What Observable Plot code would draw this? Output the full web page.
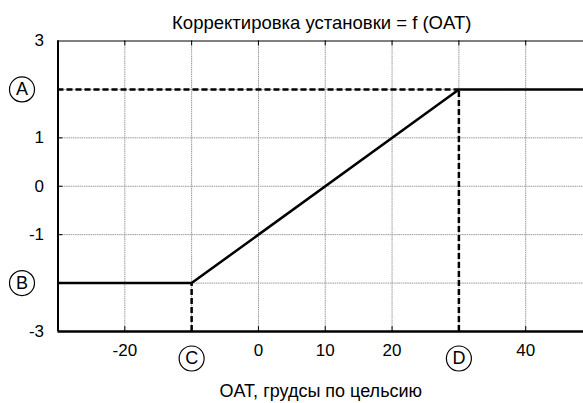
<!DOCTYPE html>
<html><head><meta charset="utf-8">
<script src="https://cdn.jsdelivr.net/npm/d3@7"></script>
<script src="https://cdn.jsdelivr.net/npm/@observablehq/plot@0.6"></script>
<style>body{margin:0;background:#fff;font-family:"Liberation Sans",Arial,sans-serif}</style>
</head><body><div id="chart"></div>
<script>
const title = "Корректировка установки = f (OAT)";
const xLabel = "OAT, грудсы по цельсию";
const xTicks = [-20, 0, 10, 20, 40];
const yTicks = [3, 1, 0, -1, -3];
const gridX = [-30, -20, -10, 0, 10, 20, 30, 40];
const gridY = [-2, -1, 0, 1, 2];
const curveX = [-30, -10, 30, 50];
const curveY = [-2, -2, 2, 2];
const yMarkers = [{label: "A", y: 2}, {label: "B", y: -2}];
const xMarkers = [{label: "C", x: -10}, {label: "D", x: 30}];

const curve = curveX.map((x, i) => ({x, y: curveY[i]}));
const fs = 17;
const tf = d => String(d);
const chart = Plot.plot({
  width: 583, height: 403,
  marginLeft: 57.5, marginRight: 0, marginTop: 40.5, marginBottom: 72,
  style: {fontFamily: '"Liberation Sans", Arial, sans-serif', fontSize: fs + "px", color: "#000", background: "#fff"},
  x: {domain: [-30, 48.65]},
  y: {domain: [-3, 3]},
  marks: [
    Plot.ruleX(gridX, {x: d => d, stroke: "#999", strokeWidth: 1, strokeDasharray: "1.5,0.7"}),
    Plot.ruleY(gridY, {y: d => d, stroke: "#999", strokeWidth: 1, strokeDasharray: "1.5,0.7"}),
    Plot.ruleX(gridX, {x: d => d, y1: 3, y2: 2.9, stroke: "#000", strokeWidth: 1}),
    Plot.ruleX(gridX, {x: d => d, y1: -3, y2: -2.9, stroke: "#000", strokeWidth: 1}),
    Plot.ruleY(gridY, {y: d => d, x1: -30, x2: -29.25, stroke: "#000", strokeWidth: 1}),
    Plot.ruleY([3], {stroke: "#000", strokeWidth: 1}),
    Plot.ruleY([-3], {stroke: "#000", strokeWidth: 2.5}),
    Plot.ruleX([-30], {stroke: "#000", strokeWidth: 2}),
    Plot.ruleY([2], {x1: -30, x2: 30, stroke: "#000", strokeWidth: 2.5, strokeDasharray: "6,3"}),
    Plot.ruleX(xMarkers, {x: "x", y1: -3, y2: d => curveY[curveX.indexOf(d.x)], stroke: "#000", strokeWidth: 2.5, strokeDasharray: "6,3"}),
    Plot.line(curve, {x: "x", y: "y", stroke: "#000", strokeWidth: 2.5, clip: true}),
    Plot.axisY(yTicks, {tickSize: 0, tickPadding: 14, fontSize: fs, tickFormat: tf, label: null}),
    Plot.axisX(xTicks, {tickSize: 0, tickPadding: 12, fontSize: fs, tickFormat: tf, label: null}),
    Plot.dot(yMarkers, {x: -30, y: "y", dx: -36, r: 12.5, stroke: "#000", strokeWidth: 1.2, fill: "#fff"}),
    Plot.text(yMarkers, {x: -30, y: "y", dx: -36, text: "label", fontSize: 18}),
    Plot.dot(xMarkers, {x: "x", y: -3, dy: 27, r: 12.5, stroke: "#000", strokeWidth: 1.2, fill: "#fff"}),
    Plot.text(xMarkers, {x: "x", y: -3, dy: 27, text: "label", fontSize: 18}),
    Plot.text([title], {frameAnchor: "top", dx: 1, dy: -18, text: d => d, fontSize: 18.5, lineAnchor: "middle", letterSpacing: "0.5px"}),
    Plot.text([xLabel], {frameAnchor: "bottom", dx: 0, dy: 60, text: d => d, fontSize: 18, lineAnchor: "middle", letterSpacing: "0.5px"})
  ]
});
document.getElementById("chart").append(chart);
</script></body></html>
